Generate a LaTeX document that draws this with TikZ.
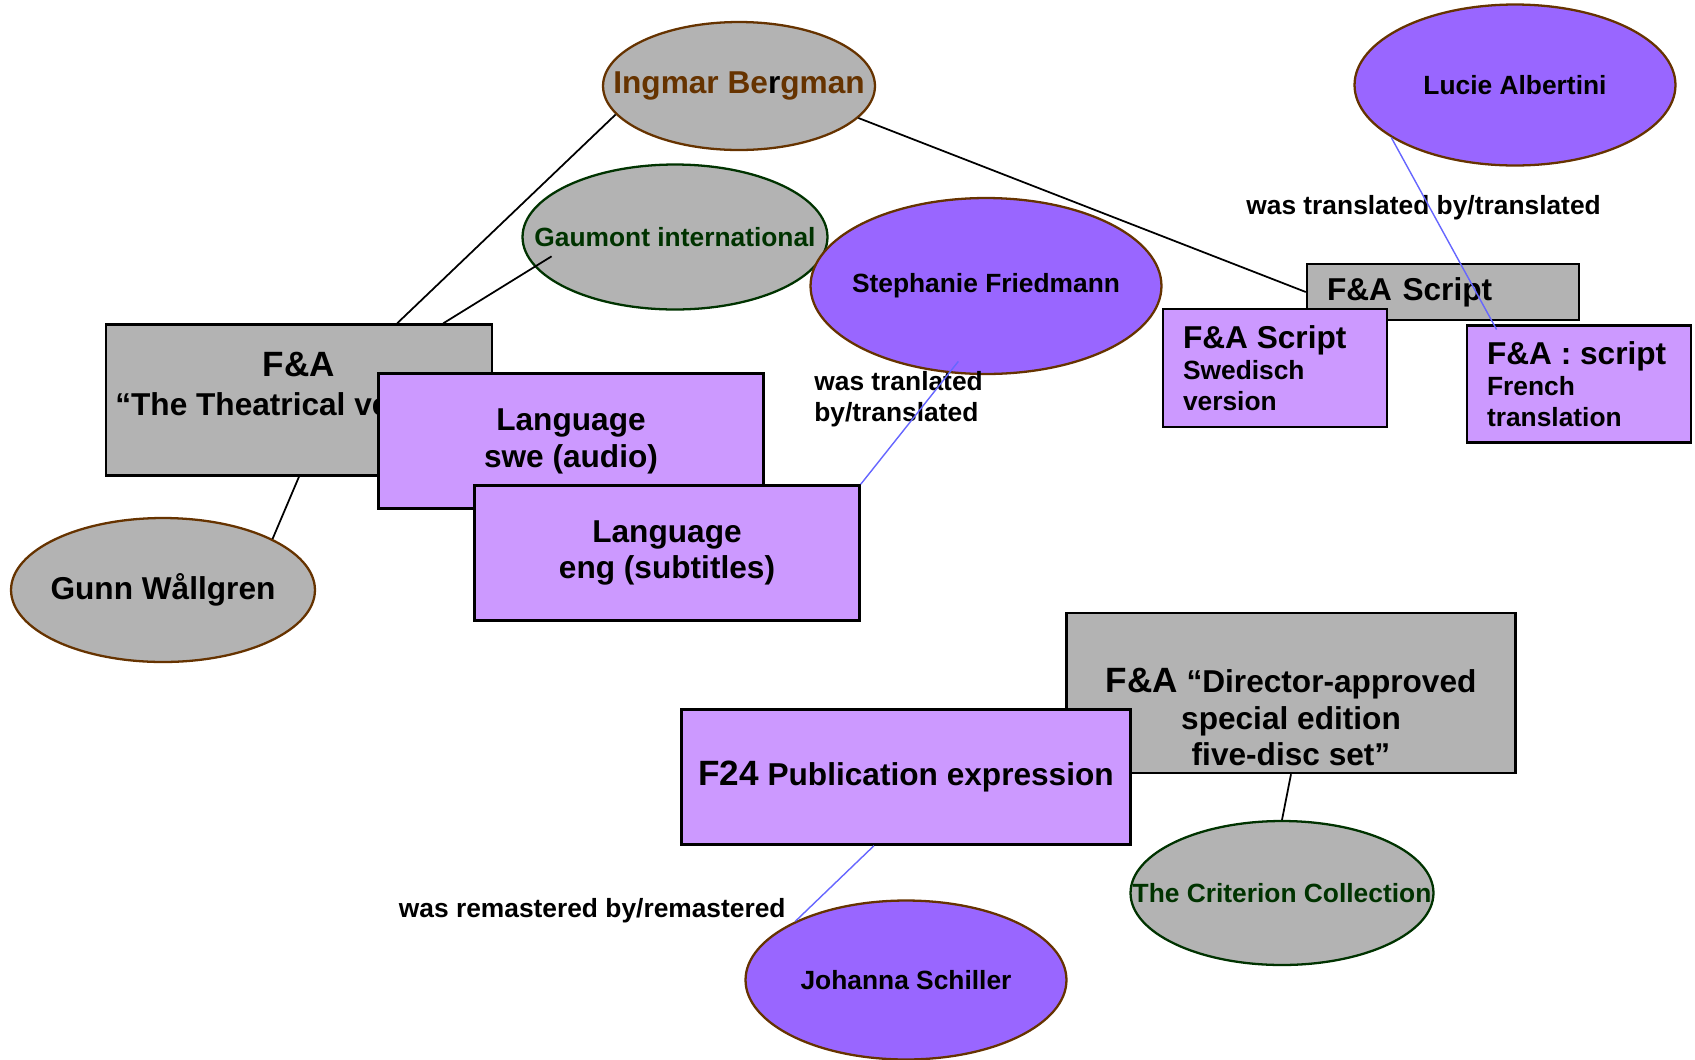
\documentclass[tikz,border=0pt]{standalone}
\usepackage{fontspec}
\setmainfont{Liberation Sans}
\usepackage{xcolor}
\usepackage{tikz}
\usetikzlibrary{positioning}
\usetikzlibrary{shapes.geometric}

\definecolor{greyfill}{HTML}{B3B3B3}
\definecolor{lilacfill}{HTML}{CC99FF}
\definecolor{purplefill}{HTML}{9966FF}
\definecolor{brownline}{HTML}{663300}
\definecolor{greenline}{HTML}{003300}
\definecolor{bluelink}{HTML}{6666FF}

\newcommand{\bigsz}{\fontsize{20}{24}\selectfont}
\newcommand{\midsz}{\fontsize{18}{21}\selectfont}
\newcommand{\smallsz}{\fontsize{15}{17.6}\selectfont}

\begin{document}
\begin{tikzpicture}[x=0.02cm,y=-0.02cm,
  work/.style={rectangle,draw=black,line width=1.4pt,fill=greyfill,align=center,font=\bfseries\midsz},
  expr/.style={rectangle,draw=black,line width=1.4pt,fill=lilacfill,align=center,font=\bfseries\midsz},
  agent/.style={ellipse,draw=brownline,line width=1.3pt,fill=greyfill,inner sep=0pt,font=\bfseries\smallsz,
    execute at begin node={\hbox to 0pt\bgroup\hss},execute at end node={\hss\egroup}},
  rel/.style={line width=1pt},
  trans/.style={draw=bluelink,line width=0.8pt},
  lbl/.style={font=\bfseries\smallsz,align=left,inner sep=0pt}]
  \useasboundingbox (0,0) rectangle (1695,1059);

  % persons and corporate bodies
  \node (berg) [agent, font=\bfseries\midsz, text=brownline, minimum width=5.44cm, minimum height=2.56cm] at (739,86) {Ingmar Be{\color{black}r}gman};
  \node (gaum) [agent, draw=greenline, text=greenline, minimum width=6.1cm, minimum height=2.9cm] at (675,237) {Gaumont international};
  \node (steph) [agent, fill=purplefill, minimum width=7.02cm, minimum height=3.52cm] at (986,286) {Stephanie Friedmann};
  \node (lucie) [agent, fill=purplefill, minimum width=6.42cm, minimum height=3.22cm] at (1515,85) {Lucie Albertini};

  % works and expressions
  \node (theat) [work, minimum width=7.72cm, minimum height=3.02cm,
    label={[align=center,font=\bfseries\midsz,yshift=0.32cm]center:{\bigsz F\&A}\\[1pt]“The Theatrical version”}] at (299,400) {};
  \node (swe) [expr, minimum width=7.7cm, minimum height=2.7cm] at (571,441) {Language\\swe (audio)};
  \node (eng) [expr, minimum width=7.7cm, minimum height=2.7cm] at (667,553) {Language\\eng (subtitles)};
  \node (script) [work, align=left, text width=4.64cm, inner xsep=0.4cm, minimum height=1.12cm] at (1443,292) {F\&A Script};
  \node (swed) [expr, align=left, font=\bfseries\smallsz, text width=3.68cm, inner xsep=0.4cm, minimum height=2.36cm] at (1275,368) {{\midsz F\&A Script}\\Swedisch\\version};
  \node (french) [expr, align=left, font=\bfseries\smallsz, text width=3.68cm, inner xsep=0.4cm, minimum height=2.34cm] at (1579,384) {{\midsz F\&A : script}\\French\\translation};
  \node (dir) [work, minimum width=8.98cm, minimum height=3.2cm,
    label={[align=center,font=\bfseries\midsz,yshift=-0.48cm]center:{\bigsz F\&A} “Director-approved\\special edition\\five-disc set”}] at (1291,693) {};
  \node (f24) [expr, minimum width=8.98cm, minimum height=2.7cm] at (906,777) {{\bigsz F24} Publication expression};

  \node (gunn) [agent, font=\bfseries\midsz, minimum width=6.08cm, minimum height=2.88cm] at (163,590) {Gunn Wållgren};
  \node (crit) [agent, draw=greenline, text=greenline, minimum width=6.06cm, minimum height=2.88cm] at (1282,893) {The Criterion Collection};
  \node (jo) [agent, fill=purplefill, minimum width=6.42cm, minimum height=3.18cm] at (906,980) {Johanna Schiller};

  % role labels
  \node (trlbl) [lbl, anchor=west] at (814,399) {was tranlated\\by/translated};
  \node (frlbl) [lbl, anchor=west] at (1246,208) {was translated by/translated};
  \node (rmlbl) [lbl, anchor=east] at (786,911) {was remastered by/remastered};

  % links
  \draw[rel] (berg.193) -- (theat.38);
  \draw[rel, shorten <=-0.4cm] (gaum.192) -- (theat.28);
  \draw[rel] (berg.-15) -- (script.west);
  \draw[rel] (theat.south) -- (gunn.25);
  \draw[rel] (dir.south) -- (crit.north);
  \draw[trans, shorten <=-0.3cm] (steph.247) -- (eng.north east);
  \draw[trans, shorten >=-0.12cm] (lucie.203) -- (french.145);
  \draw[trans] (f24.245) -- (jo.152);
\end{tikzpicture}
\end{document}
